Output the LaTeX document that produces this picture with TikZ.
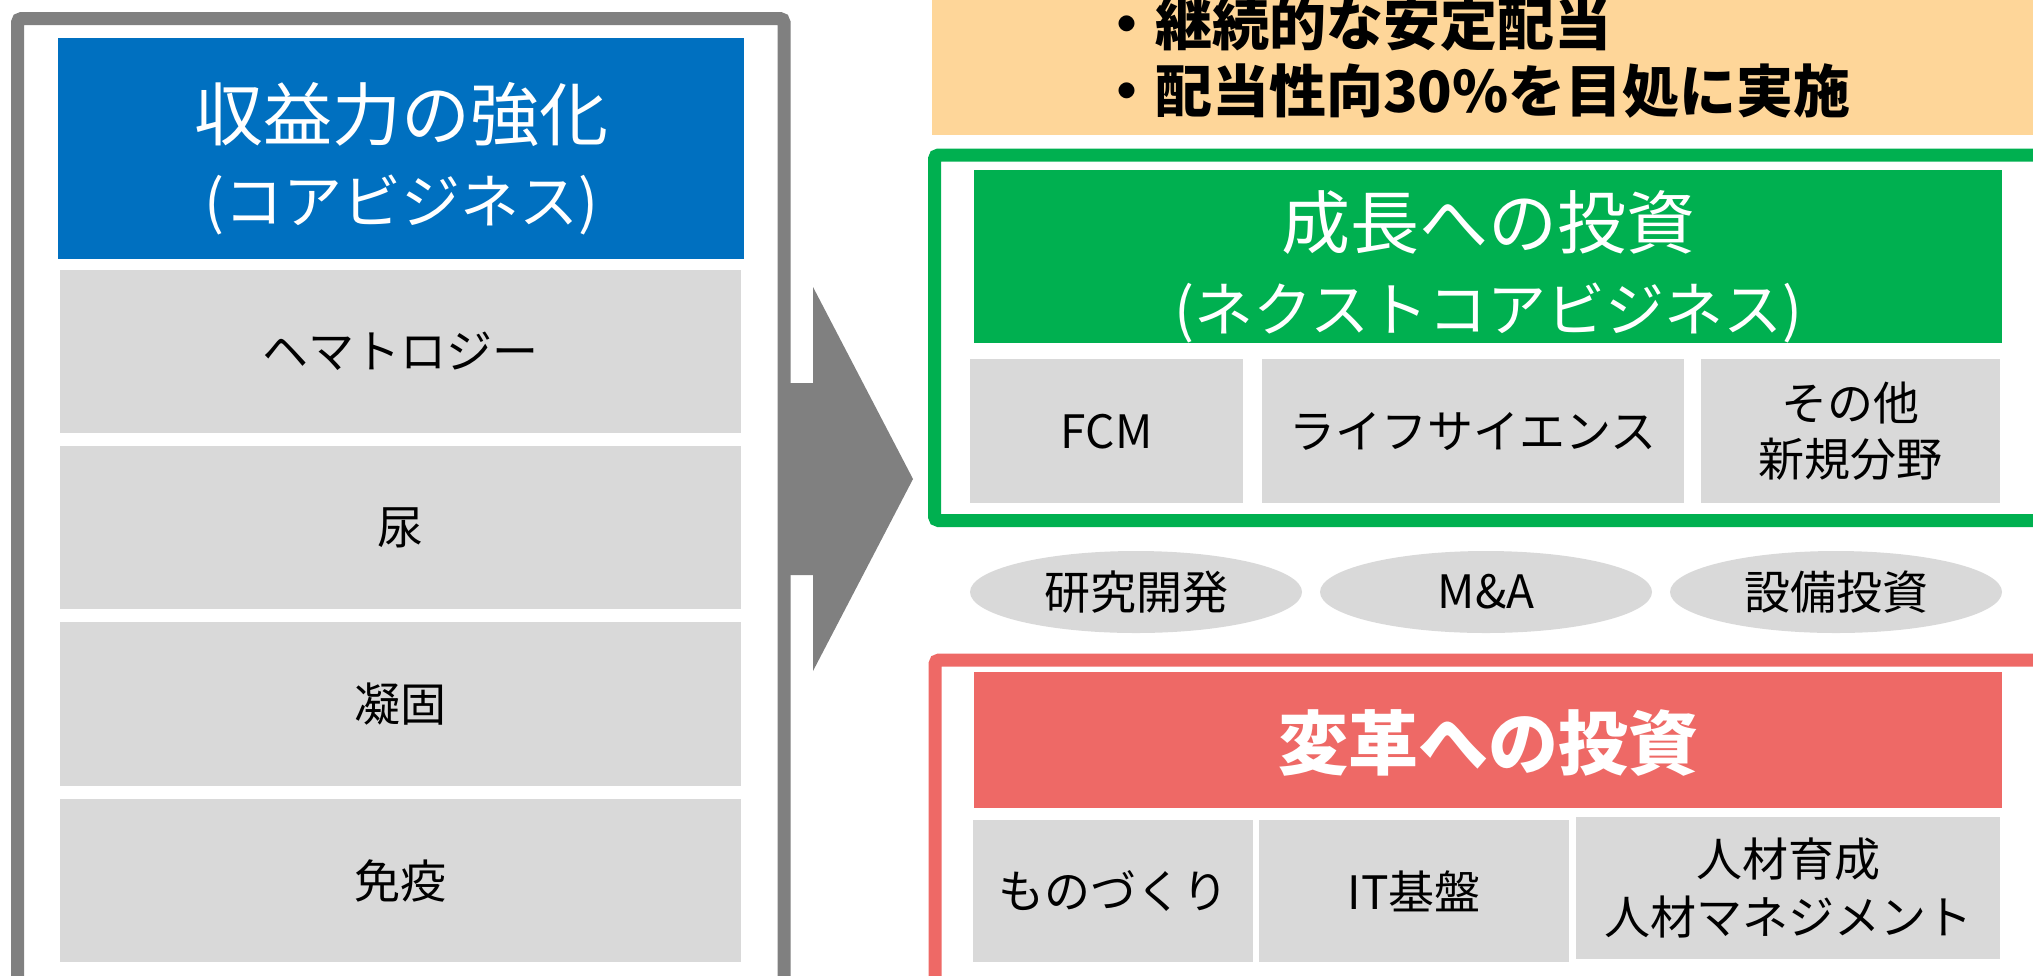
\documentclass[tikz,border=0pt]{standalone}
\usepackage{fontspec}
\setmainfont{Noto Sans CJK JP}
\usetikzlibrary{shapes.geometric}

\definecolor{framegray}{RGB}{128,128,128}
\definecolor{cellgray}{RGB}{217,217,217}
\definecolor{coreblue}{RGB}{0,112,192}
\definecolor{growgreen}{RGB}{0,176,80}
\definecolor{reformred}{RGB}{238,105,102}
\definecolor{payout}{RGB}{254,214,153}

\newcommand{\subhead}[1]{{\fontsize{59}{83}\selectfont #1}}

\begin{document}
\begin{tikzpicture}[x=1pt,y=-1pt,
    cell/.style={fill=cellgray,inner sep=0pt,anchor=north west,align=center,
      font=\fontsize{46}{56}\selectfont},
    head/.style={inner sep=0pt,anchor=north west},
    headtext/.style={inner sep=0pt,align=center,text=white,
      font=\fontsize{69}{83}\selectfont},
    pill/.style={ellipse,fill=cellgray,inner sep=0pt,minimum width=332pt,
      minimum height=82pt,font=\fontsize{46}{56}\selectfont},
    frame/.style={line width=13pt,rounded corners=4pt}]
  \useasboundingbox (0,0) rectangle (2033,975);

  % dividend policy
  \fill[payout] (932,-20) rectangle (2050,135);
  \node[anchor=west,align=left,inner sep=0pt,font=\bfseries\fontsize{57}{67}\selectfont]
    (div) at (1098,58) {・継続的な安定配当\\・配当性向30\%を目処に実施};

  % core business
  \draw[frame,framegray] (17.5,990) -- (17.5,18.5) -- (784,18.5) -- (784,990);
  \node[head,fill=coreblue,minimum width=686pt,minimum height=221pt] (core) at (58,38) {};
  \node[headtext] (coretitle) at ([yshift=-10pt]core.center)
    {収益力の強化\\\subhead{(コアビジネス)}};
  \node[cell,minimum width=681pt,minimum height=163pt] (hema) at (60,270) {ヘマトロジー};
  \node[cell,minimum width=681pt,minimum height=163pt] (urine) at (60,446) {尿};
  \node[cell,minimum width=681pt,minimum height=164pt] (coag) at (60,622) {凝固};
  \node[cell,minimum width=681pt,minimum height=163pt] (immu) at (60,799) {免疫};

  \fill[framegray] (784,383) -- (813,383) -- (813,287) -- (913,479)
    -- (813,671) -- (813,575) -- (784,575) -- cycle;

  % next core business
  \draw[frame,growgreen] (2060,155) -- (934.5,155) -- (934.5,520.5) -- (2060,520.5);
  \node[head,fill=growgreen,minimum width=1028pt,minimum height=173pt] (grow) at (974,170) {};
  \node[headtext] (growtitle) at ([yshift=-10pt]grow.center)
    {成長への投資\\\subhead{(ネクストコアビジネス)}};
  \node[cell,minimum width=273pt,minimum height=144pt] (fcm) at (970,359) {FCM};
  \node[cell,minimum width=422pt,minimum height=144pt] (life) at (1262,359) {ライフサイエンス};
  \node[cell,minimum width=299pt,minimum height=144pt] (other) at (1701,359) {その他\\新規分野};

  \node[pill] (rnd) at (1136,592) {研究開発};
  \node[pill] (mna) at (1486,592) {M\&A};
  \node[pill] (capex) at (1836,592) {設備投資};

  % transformation
  \draw[frame,reformred] (2060,660) -- (935,660) -- (935,990);
  \node[head,fill=reformred,minimum width=1028pt,minimum height=136pt] (reform) at (974,672) {};
  \node[headtext,font=\bfseries\fontsize{70}{84}\selectfont] (reformtitle)
    at ([yshift=-3pt]reform.center) {変革への投資};
  \node[cell,minimum width=280pt,minimum height=142pt] (mono) at (973,820) {ものづくり};
  \node[cell,minimum width=310pt,minimum height=142pt] (itbase) at (1259,820) {IT基盤};
  \node[cell,minimum width=424pt,minimum height=142pt,
    font=\fontsize{46}{58}\selectfont] (hr) at (1576,817) {人材育成\\人材マネジメント};
\end{tikzpicture}
\end{document}
